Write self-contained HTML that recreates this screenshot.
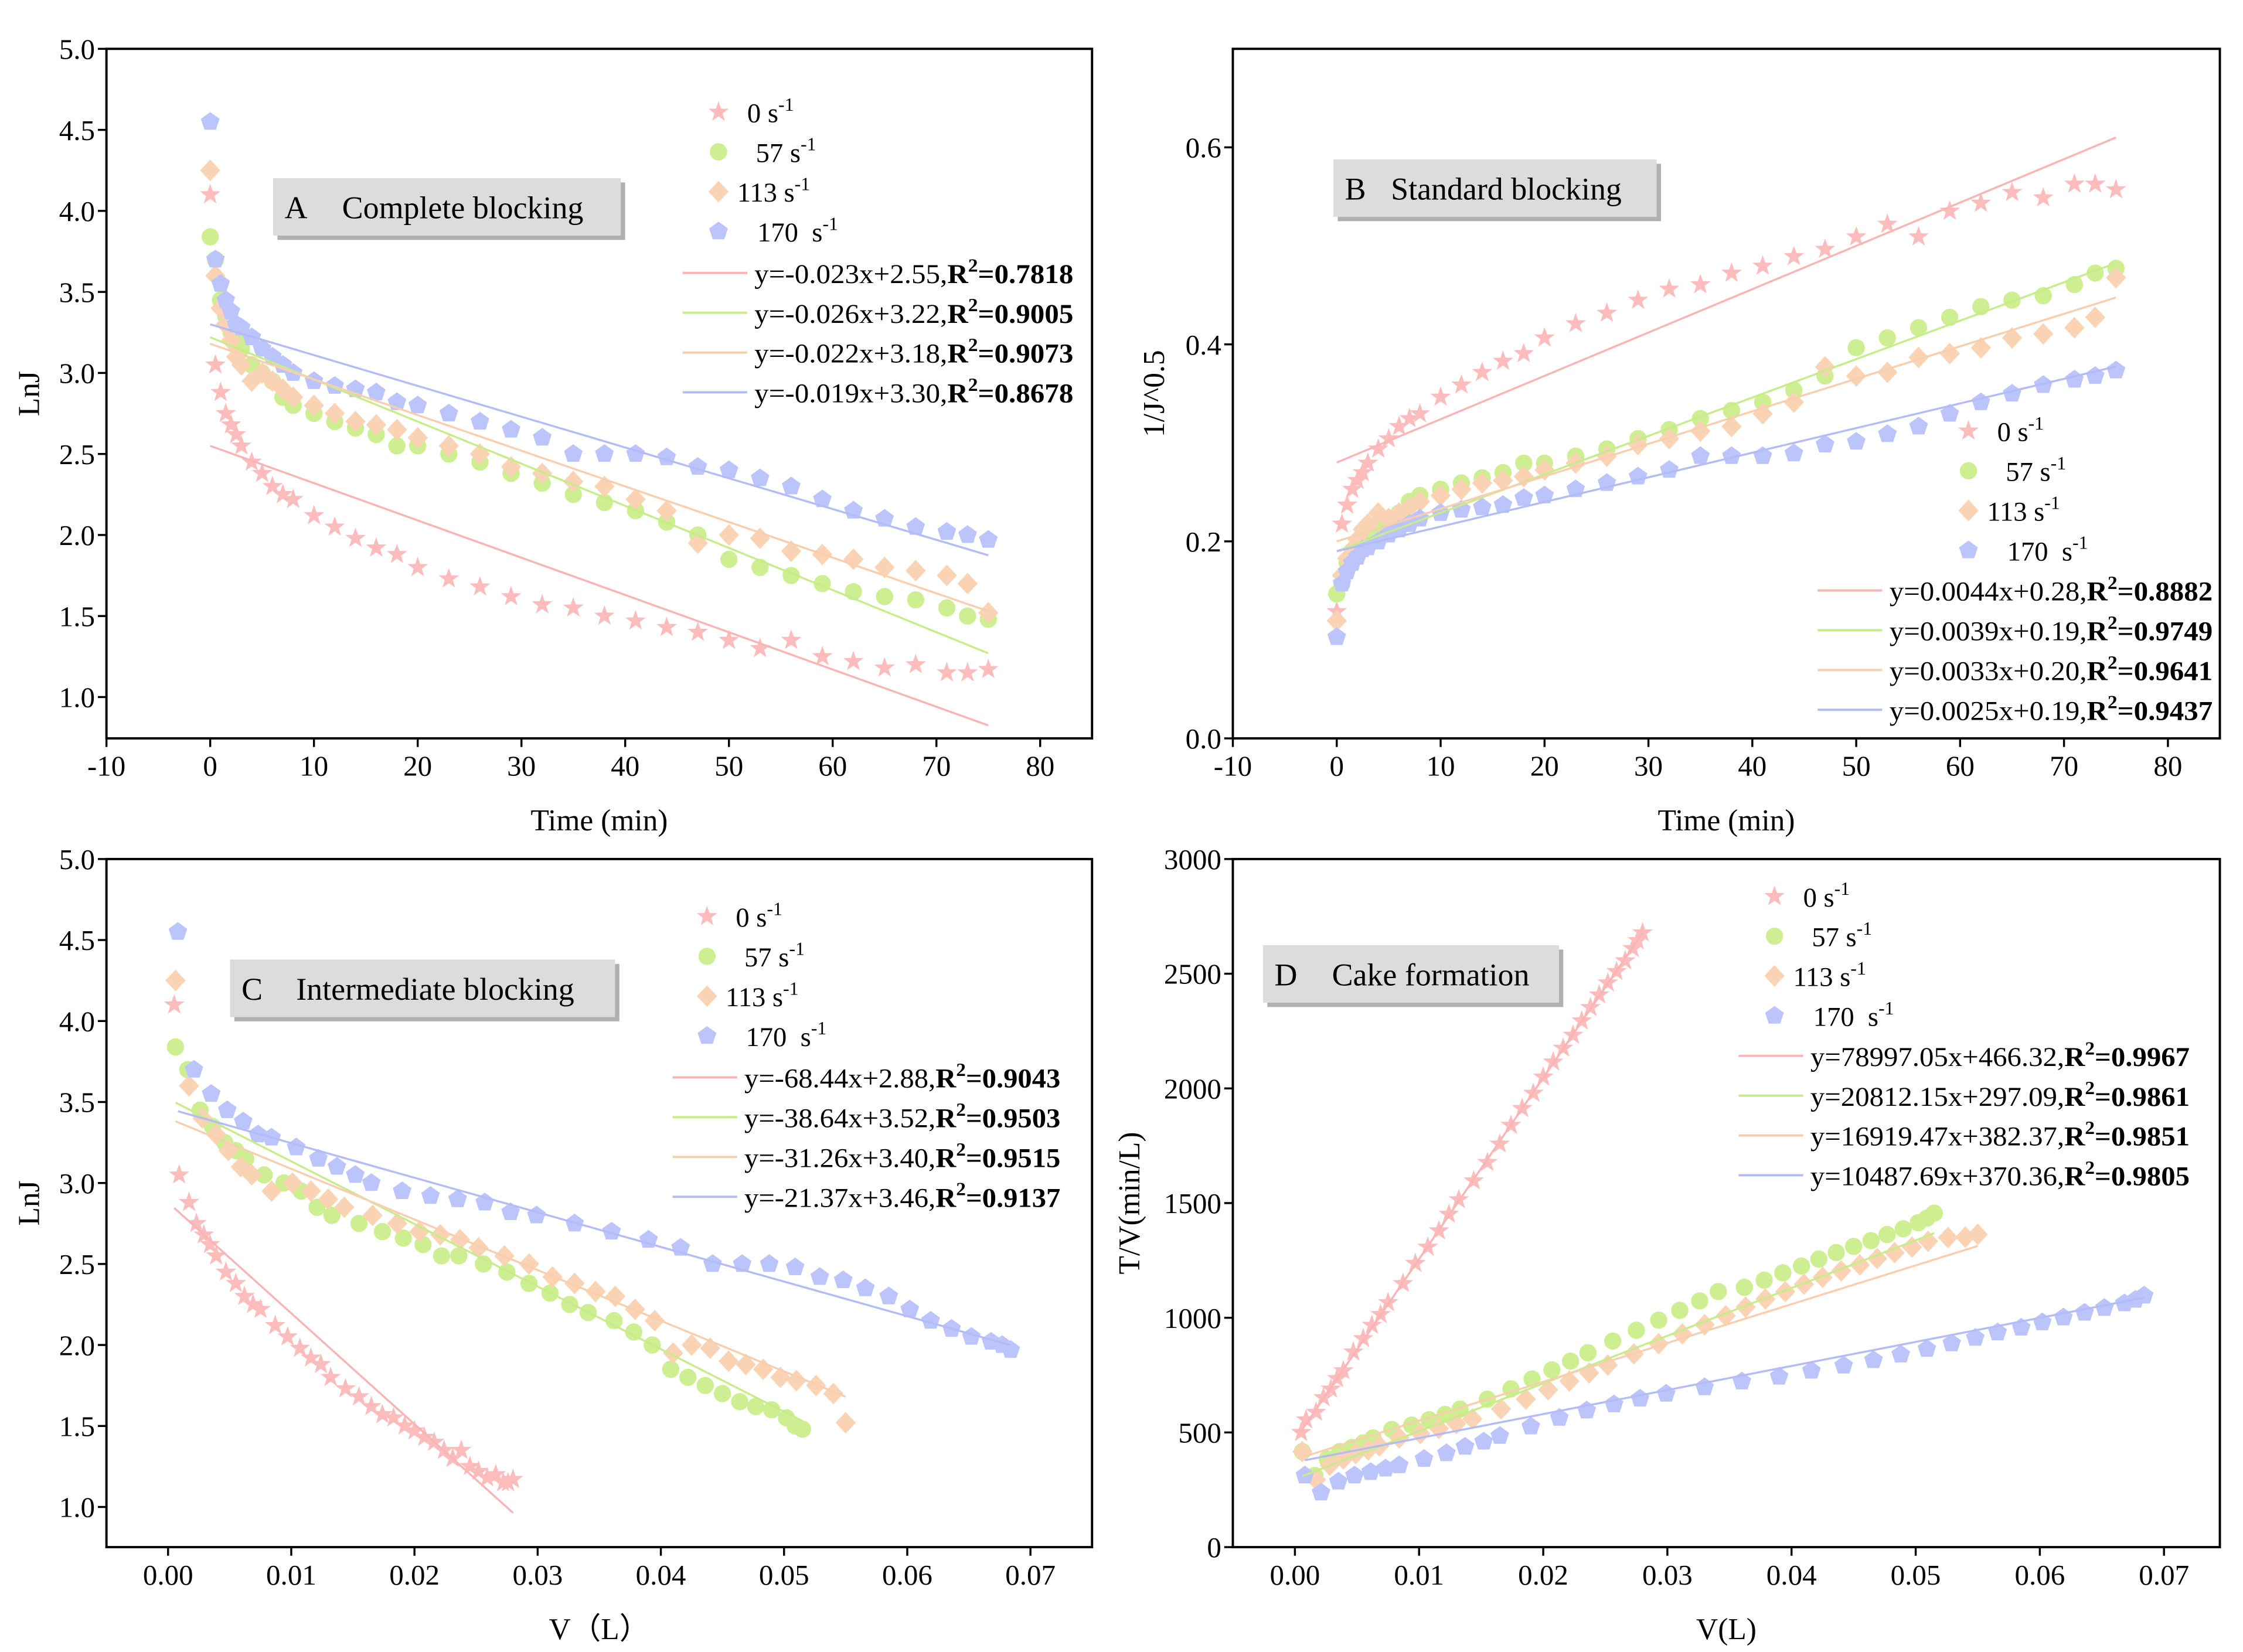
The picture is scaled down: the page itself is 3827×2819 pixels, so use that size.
<!DOCTYPE html>
<html><head><meta charset="utf-8"><style>
html,body{margin:0;padding:0;background:#fff}
svg{display:block;font-family:"Liberation Serif",serif}
</style></head><body>
<svg id="fig" width="3827" height="2819" viewBox="0 0 1561 1150" xmlns="http://www.w3.org/2000/svg"></svg>
<script>
// ---- data ----
const seriesNames = ["0 s","57 s","113 s","170 s"];
const times = [0,0.5,1,1.5,2,2.5,3,4,5,6,7,8,10,12,14,16,18,20,23,26,29,32,35,38,41,44,47,50,53,56,59,62,65,68,71,73,75];
const lnJ0 = [4.1,3.05,2.88,2.75,2.68,2.62,2.55,2.45,2.38,2.3,2.25,2.22,2.12,2.05,1.98,1.92,1.88,1.8,1.73,1.68,1.62,1.57,1.55,1.5,1.47,1.43,1.4,1.35,1.3,1.35,1.25,1.22,1.18,1.2,1.15,1.15,1.17];
const lnJ57 = [3.84,3.7,3.45,3.35,3.25,3.2,3.15,3.05,3.0,2.95,2.85,2.8,2.75,2.7,2.66,2.62,2.55,2.55,2.5,2.45,2.38,2.32,2.25,2.2,2.15,2.08,2.0,1.85,1.8,1.75,1.7,1.65,1.62,1.6,1.55,1.5,1.48];
const lnJ113 = [4.25,3.6,3.4,3.3,3.2,3.1,3.05,2.95,3.0,2.95,2.9,2.85,2.8,2.75,2.7,2.68,2.65,2.6,2.55,2.5,2.42,2.38,2.33,2.3,2.22,2.15,1.95,2.0,1.98,1.9,1.88,1.85,1.8,1.78,1.75,1.7,1.52];
const lnJ170 = [4.55,3.7,3.55,3.45,3.38,3.3,3.28,3.22,3.15,3.1,3.05,3.0,2.95,2.92,2.9,2.88,2.82,2.8,2.75,2.7,2.65,2.6,2.5,2.5,2.5,2.48,2.42,2.4,2.35,2.3,2.22,2.15,2.1,2.05,2.02,2.0,1.97];
const vol0 = [0.0005,0.0009,0.0017,0.0023,0.0029,0.0034,0.0039,0.0047,0.0055,0.0062,0.0069,0.0075,0.0087,0.0097,0.0107,0.0116,0.0124,0.0132,0.0144,0.0155,0.0165,0.0174,0.0183,0.0192,0.02,0.0208,0.0216,0.0224,0.0231,0.0238,0.0245,0.0252,0.0259,0.0266,0.0272,0.0276,0.028];
const vol57 = [0.0006,0.0016,0.0026,0.0036,0.0046,0.0055,0.0063,0.0078,0.0094,0.0108,0.0121,0.0133,0.0155,0.0174,0.0191,0.0207,0.0222,0.0236,0.0256,0.0275,0.0293,0.031,0.0326,0.0341,0.0362,0.0378,0.0393,0.0408,0.0422,0.0436,0.045,0.0464,0.0477,0.049,0.0502,0.0509,0.0515];
const vol113 = [0.0006,0.0017,0.0028,0.0039,0.0049,0.0059,0.0068,0.0084,0.0101,0.0116,0.013,0.0143,0.0166,0.0186,0.0204,0.0221,0.0237,0.0252,0.0273,0.0293,0.0312,0.033,0.0347,0.0363,0.0379,0.0395,0.041,0.0425,0.044,0.0455,0.0469,0.0483,0.0497,0.051,0.0526,0.054,0.055];
const vol170 = [0.0008,0.0021,0.0035,0.0048,0.0061,0.0073,0.0084,0.0104,0.0122,0.0137,0.0152,0.0165,0.019,0.0213,0.0235,0.0257,0.0278,0.0299,0.033,0.036,0.039,0.0416,0.0442,0.0466,0.0488,0.0509,0.0529,0.0548,0.0566,0.0585,0.0602,0.0619,0.0636,0.0652,0.0668,0.0677,0.0684];
const slopeA = [-0.023,-0.026,-0.022,-0.019], interA = [2.55,3.22,3.18,3.30], r2A = ["0.7818","0.9005","0.9073","0.8678"];
const slopeB = [0.0044,0.0039,0.0033,0.0025], interB = [0.28,0.19,0.20,0.19], r2B = ["0.8882","0.9749","0.9641","0.9437"];
const slopeC = [-68.44,-38.64,-31.26,-21.37], interC = [2.88,3.52,3.40,3.46], r2C = ["0.9043","0.9503","0.9515","0.9137"];
const slopeD = [78997.05,20812.15,16919.47,10487.69], interD = [466.32,297.09,382.37,370.36], r2D = ["0.9967","0.9861","0.9851","0.9805"];
const ticksTime = [-10,0,10,20,30,40,50,60,70,80];
const ticksLnJ = [1.0,1.5,2.0,2.5,3.0,3.5,4.0,4.5,5.0];
const ticksB = [0.0,0.2,0.4,0.6];
const ticksV = [0.00,0.01,0.02,0.03,0.04,0.05,0.06,0.07];
const ticksD = [0,500,1000,1500,2000,2500,3000];

const lnJ=[lnJ0,lnJ57,lnJ113,lnJ170], vols=[vol0,vol57,vol113,vol170];
const fill=["#fdbcbc","#cdef92","#f9d3b4","#bcc4fc"];
const lineC=["#f9b4b4","#c8ec8a","#f8cfae","#b4bcf8"];
const NS="http://www.w3.org/2000/svg", svg=document.getElementById('fig');
function el(t,a,p){const e=document.createElementNS(NS,t);for(const k in a)e.setAttribute(k,a[k]);(p||svg).appendChild(e);return e;}
function mk(shape,x,y,c,g){
  let e;const r=6;
  if(shape==0){let p=[];for(let i=0;i<10;i++){const a=-Math.PI/2+i*Math.PI/5,rr=i%2?3:7.5;p.push((x+rr*Math.cos(a)).toFixed(1)+','+(y+rr*Math.sin(a)).toFixed(1));}e=el('polygon',{points:p.join(' '),fill:c},g);}
  else if(shape==1){e=el('circle',{cx:x,cy:y,r:r,fill:c},g);}
  else if(shape==2){e=el('polygon',{points:`${x},${y-7.5} ${x+7},${y} ${x},${y+7.5} ${x-7},${y}`,fill:c},g);}
  else {let p=[];for(let i=0;i<5;i++){const a=-Math.PI/2+i*2*Math.PI/5;p.push((x+6.8*Math.cos(a)).toFixed(1)+','+(y+6.8*Math.sin(a)).toFixed(1));}e=el('polygon',{points:p.join(' '),fill:c},g);}
  return e;
}
function txt(s,x,y,a,g){const t=el('text',a,g);t.setAttribute('x',x);t.setAttribute('y',y);t.textContent=s;return t;}

function panel(P){
  const g=el('g',{});
  
  
  const sx=v=>P.x0+(v-P.xmin)/(P.xmax-P.xmin)*(P.x1-P.x0);
  const sy=v=>P.y1-(v-P.ymin)/(P.ymax-P.ymin)*(P.y1-P.y0);
  for(let s=0;s<4;s++){
    const sg=el('g',{},g);
    
    
    for(let i=0;i<times.length;i++){
      const xv=P.xf(s,i), yv=P.yf(s,i);
      if(yv<P.ymin||yv>P.ymax)continue;
      const m=mk(s,sx(xv),sy(yv),fill[s],sg);
      
      
    }
  }
  for(let s=0;s<4;s++){
    const xa=P.lx(s)[0], xb=P.lx(s)[1];
    const l=el('line',{x1:sx(xa),y1:sy(P.slope[s]*xa+P.inter[s]),x2:sx(xb),y2:sy(P.slope[s]*xb+P.inter[s]),stroke:lineC[s],'stroke-width':1.4},g);
    
    
  }
  const fr=el('rect',{x:P.x0,y:P.y0,width:P.x1-P.x0,height:P.y1-P.y0,fill:'none',stroke:'#000','stroke-width':1.6},g);
  
  
  P.xt.forEach(v=>{const x=sx(v);el('line',{x1:x,y1:P.y1,x2:x,y2:P.y1+6,stroke:'#000','stroke-width':1.4},g);
    const t=txt(P.xfmt(v),x,P.y1+26,{'font-size':20,'text-anchor':'middle'},g);
    
    });
  P.yt.forEach(v=>{const y=sy(v);el('line',{x1:P.x0-6,y1:y,x2:P.x0,y2:y,stroke:'#000','stroke-width':1.4},g);
    const t=txt(P.yfmt(v),P.x0-8,y+7,{'font-size':20,'text-anchor':'end'},g);
    
    });
  const xt=txt(P.xtitle,(P.x0+P.x1)/2,P.y1+64,{'font-size':21,'text-anchor':'middle'},g);
  
  
  const yt=txt(P.ytitle,0,0,{'font-size':21,'text-anchor':'middle',transform:`translate(${P.ytx},${(P.y0+P.y1)/2}) rotate(-90)`},g);
  
  
  const tb=el('g',{},g);
  
  
  el('rect',{x:P.tb[0]+3,y:P.tb[1]+3,width:P.tb[2],height:40,fill:'#b0b0b0'},tb);
  el('rect',{x:P.tb[0],y:P.tb[1],width:P.tb[2],height:40,fill:'#dcdcdc'},tb);
  txt(P.title[0],P.tb[0]+8,P.tb[1]+28,{'font-size':22},tb);
  txt(P.title[1],P.tb[0]+P.tb[3],P.tb[1]+28,{'font-size':22},tb);
  const lg=el('g',{},g);
  
  
  const labs=["0","57","113","170"];
  for(let s=0;s<4;s++){
    const y=P.leg[1]+s*27.7;
    mk(s,P.leg[0],y,fill[s],lg);
    const t=el('text',{x:P.leg[0]+(s==2?-12:s==1?1:s==3?2:-5)+25,y:y+7,'font-size':19},lg);
    t.innerHTML=labs[s]+(s==3?'&#160;':'')+' s<tspan dy="-8" font-size="13">-1</tspan>';
    
    
  }
  for(let s=0;s<4;s++){
    const y=P.leg2[1]+s*27.7;
    el('line',{x1:P.leg2[0],y1:y,x2:P.leg2[0]+45,y2:y,stroke:lineC[s],'stroke-width':1.6},lg);
    const sl=P.slope[s], si=P.inter[s];
    const eq='y='+P.sfmt(sl)+'x+'+si.toFixed(2)+',';
    const t=el('text',{x:P.leg2[0]+50,y:y+7,'font-size':19,textLength:P.tl,lengthAdjust:'spacingAndGlyphs'},lg);
    t.innerHTML=eq+'<tspan font-weight="bold">R<tspan dy="-8" font-size="13">2</tspan><tspan dy="8">='+P.r2[s]+'</tspan></tspan>';
    
    
  }
}
const X=(s,i)=>times[i];
panel({name:'panel-a-complete-blocking',key:'a',x0:74,x1:760,y0:34,y1:514,xmin:-10,xmax:85,ymin:0.745,ymax:5.0,
  xf:X,yf:(s,i)=>lnJ[s][i],lx:s=>[0,75],slope:slopeA,inter:interA,r2:r2A,sfmt:v=>v.toFixed(3),
  xt:ticksTime,yt:ticksLnJ,xfmt:v=>''+v,yfmt:v=>v.toFixed(1),xtitle:'Time (min)',ytitle:'LnJ',ytx:27,
  tb:[190,124,242,48],title:['A','Complete blocking'],leg:[500,78],leg2:[475,190],tl:222});
panel({name:'panel-b-standard-blocking',key:'b',x0:858,x1:1545,y0:34,y1:514,xmin:-10,xmax:85,ymin:0,ymax:0.7,
  xf:X,yf:(s,i)=>Math.exp(-lnJ[s][i]/2),lx:s=>[0,75],slope:slopeB,inter:interB,r2:r2B,sfmt:v=>v.toFixed(4),
  xt:ticksTime,yt:ticksB,xfmt:v=>''+v,yfmt:v=>v.toFixed(1),xtitle:'Time (min)',ytitle:'1/J^0.5',ytx:810,
  tb:[928,111,225,40],title:['B','Standard blocking'],leg:[1370,300],leg2:[1265,411],tl:225});
panel({name:'panel-c-intermediate-blocking',key:'c',x0:74,x1:760,y0:598,y1:1077,xmin:-0.005,xmax:0.075,ymin:0.752,ymax:5.0,
  xf:(s,i)=>vols[s][i],yf:(s,i)=>lnJ[s][i],lx:s=>[vols[s][0],vols[s][vols[s].length-1]],slope:slopeC,inter:interC,r2:r2C,sfmt:v=>v.toFixed(2),
  xt:ticksV,yt:ticksLnJ,xfmt:v=>v.toFixed(2),yfmt:v=>v.toFixed(1),xtitle:'V（L）',ytitle:'LnJ',ytx:27,
  tb:[160,668,268,46],title:['C','Intermediate blocking'],leg:[492,638],leg2:[468,750],tl:220});
panel({name:'panel-d-cake-formation',key:'d',x0:858,x1:1545,y0:598,y1:1077,xmin:-0.005,xmax:0.0745,ymin:0,ymax:3000,
  xf:(s,i)=>vols[s][i],yf:(s,i)=>times[i]<0.3?(times[i]+0.25)/vols[s][i]:times[i]/vols[s][i],lx:s=>[vols[s][0],vols[s][vols[s].length-1]],slope:slopeD,inter:interD,r2:r2D,sfmt:v=>v.toFixed(2),
  xt:ticksV,yt:ticksD,xfmt:v=>v.toFixed(2),yfmt:v=>''+v,xtitle:'V(L)',ytitle:'T/V(min/L)',ytx:793,
  tb:[879,658,206,48],title:['D','Cake formation'],leg:[1235,624],leg2:[1210,735],tl:264});
</script>
</body></html>
